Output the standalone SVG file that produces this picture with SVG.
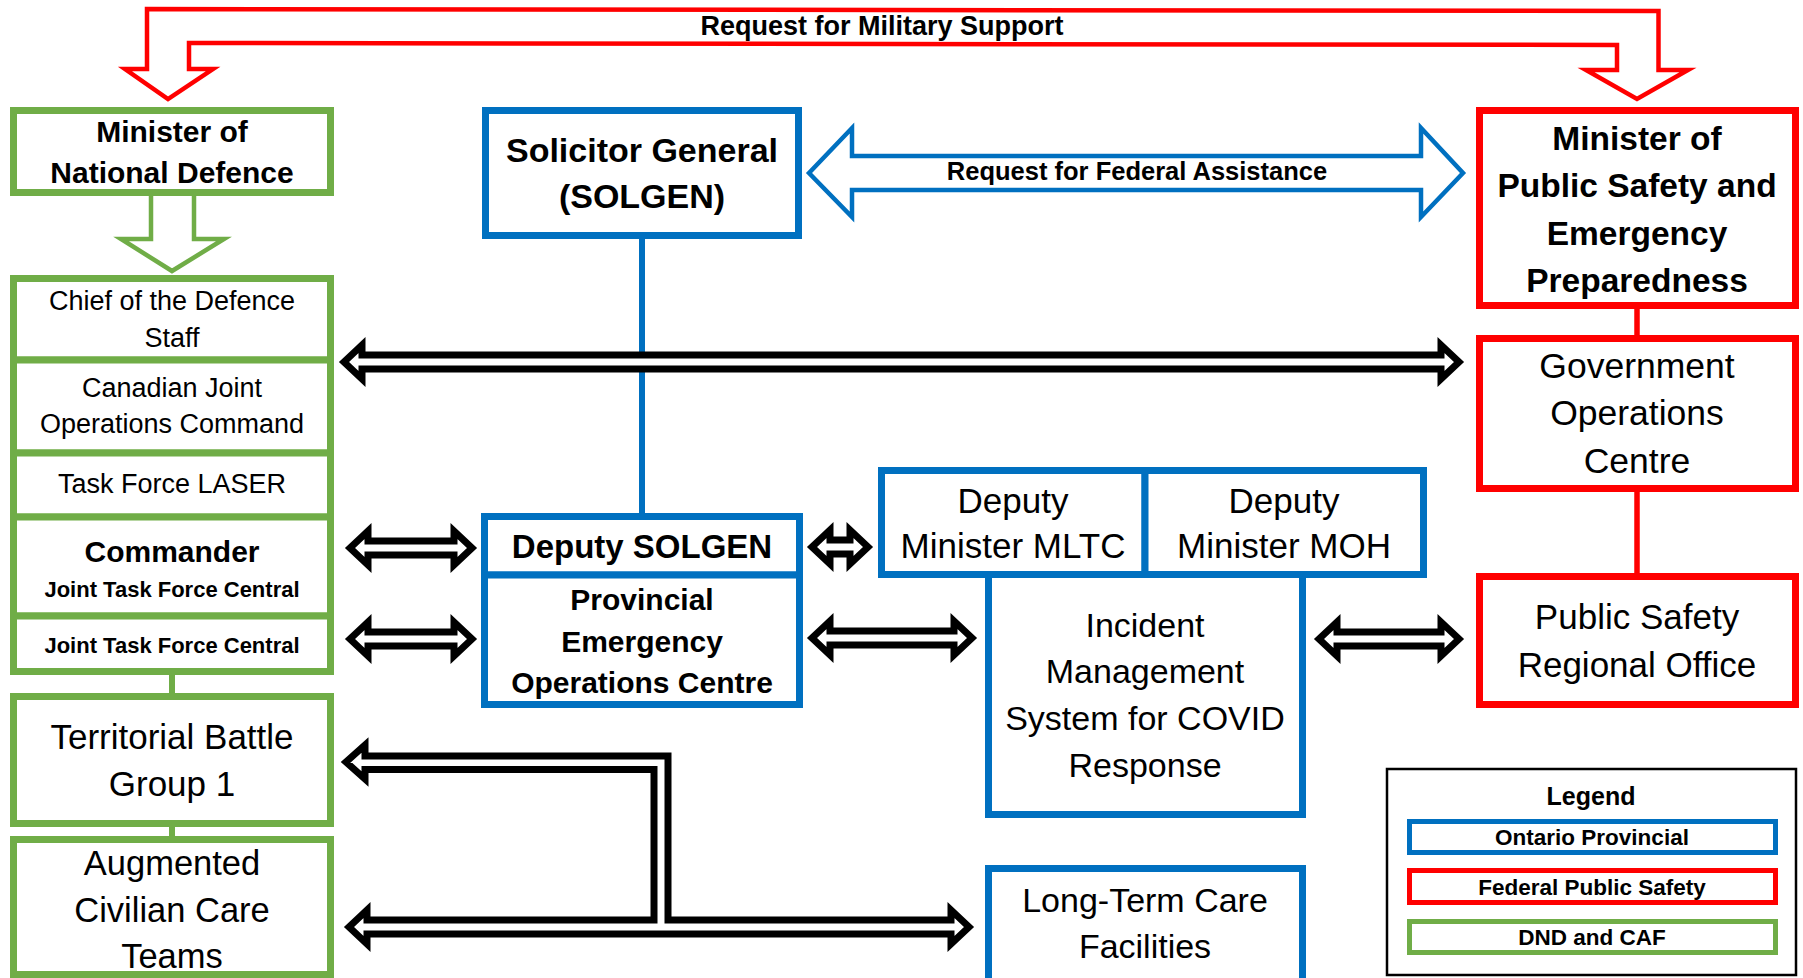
<svg xmlns="http://www.w3.org/2000/svg" width="1803" height="978" viewBox="0 0 1803 978">
<style>
text{font-family:"Liberation Sans",Arial,sans-serif;fill:#000;text-anchor:middle}
.b{font-weight:bold}
.g{fill:#fff;stroke:#70AD47;stroke-width:7}
.u{fill:#fff;stroke:#0070C0;stroke-width:7}
.r{fill:#fff;stroke:#FF0000;stroke-width:7}
.arr{fill:#fff;stroke:#000;stroke-width:7;stroke-linejoin:miter;stroke-miterlimit:10}
</style>
<rect width="1803" height="978" fill="#fff"/>
<g id="connectors">
<path d="M147,69 L125,69 L168,99 L213,69 L189,69 L189,43 L1617,45 L1617,70 L1586,70 L1637,99 L1688,70 L1658.5,70 L1658.5,11 L147,9 Z" fill="#fff" stroke="#FF0000" stroke-width="4.5" stroke-linejoin="miter"/>
<text class="b" x="882" y="35" font-size="27">Request for Military Support</text>
<path d="M809,173 L852,128 L852,156 L1421,156 L1421,128 L1463,173 L1421,217 L1421,190 L852,190 L852,217 Z" fill="#fff" stroke="#0070C0" stroke-width="4.5"/>
<text class="b" x="1137" y="180" font-size="25.5">Request for Federal Assistance</text>
<path d="M151,196 L151,239 L121,239 L172,271 L224,239 L194,239 L194,196" fill="#fff" stroke="#70AD47" stroke-width="4.5"/>
<line x1="642" y1="239" x2="642" y2="514" stroke="#0070C0" stroke-width="6"/>
<line x1="1637" y1="308" x2="1637" y2="337" stroke="#FF0000" stroke-width="5.5"/>
<line x1="1637" y1="491" x2="1637" y2="575" stroke="#FF0000" stroke-width="5.5"/>
<line x1="172" y1="674" x2="172" y2="697" stroke="#70AD47" stroke-width="6"/>
<line x1="172" y1="826" x2="172" y2="838" stroke="#70AD47" stroke-width="6"/>
<path class="arr" d="M344,362 L362,345 L362,355 L1441,355 L1441,345 L1459,362 L1441,379 L1441,369 L362,369 L362,379 Z"/>
<path class="arr" d="M350,548 L368,531 L368,541 L454,541 L454,531 L472,548 L454,565 L454,555 L368,555 L368,565 Z"/>
<path class="arr" d="M350,639 L368,622 L368,632 L454,632 L454,622 L472,639 L454,656 L454,646 L368,646 L368,656 Z"/>
<path class="arr" d="M812,547 L830,530 L830,540 L850,540 L850,530 L868,547 L850,564 L850,554 L830,554 L830,564 Z"/>
<path class="arr" d="M812,638 L830,621 L830,631 L954,631 L954,621 L972,638 L954,655 L954,645 L830,645 L830,655 Z"/>
<path class="arr" d="M1319,639 L1337,622 L1337,632 L1441,632 L1441,622 L1459,639 L1441,656 L1441,646 L1337,646 L1337,656 Z"/>
<path class="arr" d="M349,927 L367,910 L367,920 L654,920 L654,769.5 L365,769.5 L365,779 L346,762 L365,745 L365,756 L668,756 L668,920 L951,920 L951,910 L969,927 L951,944 L951,934 L367,934 L367,944 Z"/>
</g>
<g id="n-mnd"><rect class="g" x="13.5" y="110.5" width="317" height="82"/>
<text class="b" x="172" y="142" font-size="30">Minister of</text><text class="b" x="172" y="183" font-size="30">National Defence</text></g>
<g id="n-cds"><rect class="g" x="13.5" y="278.5" width="317" height="81.5"/>
<text x="172" y="310" font-size="27">Chief of the Defence</text><text x="172" y="347" font-size="27">Staff</text></g>
<g id="n-cjoc"><rect class="g" x="13.5" y="360" width="317" height="93"/>
<text x="172" y="397" font-size="27">Canadian Joint</text><text x="172" y="433" font-size="27">Operations Command</text></g>
<g id="n-tfl"><rect class="g" x="13.5" y="453" width="317" height="64"/>
<text x="172" y="493" font-size="27">Task Force LASER</text></g>
<g id="n-cmd"><rect class="g" x="13.5" y="517" width="317" height="99"/>
<text class="b" x="172" y="562" font-size="30">Commander</text><text class="b" x="172" y="597" font-size="22">Joint Task Force Central</text></g>
<g id="n-jtfc"><rect class="g" x="13.5" y="616" width="317" height="55.5"/>
<text class="b" x="172" y="653" font-size="22">Joint Task Force Central</text></g>
<g id="n-tbg"><rect class="g" x="13.5" y="696.5" width="317" height="127"/>
<text x="172" y="749" font-size="35">Territorial Battle</text><text x="172" y="796" font-size="35">Group 1</text></g>
<g id="n-acct"><rect class="g" x="13.5" y="839.5" width="317" height="135"/>
<text x="172" y="875" font-size="34.5">Augmented</text><text x="172" y="922" font-size="34.5">Civilian Care</text><text x="172" y="968" font-size="34.5">Teams</text></g>
<g id="n-solgen"><rect class="u" x="485.5" y="110.5" width="313" height="125"/>
<text class="b" x="642" y="162" font-size="34">Solicitor General</text><text class="b" x="642" y="208" font-size="34">(SOLGEN)</text></g>
<g id="n-dsolgen"><rect class="u" x="484.5" y="516.5" width="315" height="58.5"/>
<text class="b" x="642" y="558" font-size="33">Deputy SOLGEN</text></g>
<g id="n-peoc"><rect class="u" x="484.5" y="575" width="315" height="129.5"/>
<text class="b" x="642" y="610" font-size="30">Provincial</text><text class="b" x="642" y="652" font-size="30">Emergency</text><text class="b" x="642" y="693" font-size="30">Operations Centre</text></g>
<g id="n-mltc"><rect class="u" x="881.5" y="470.5" width="263.5" height="104"/>
<text x="1013" y="513" font-size="35">Deputy</text><text x="1013" y="558" font-size="35">Minister MLTC</text></g>
<g id="n-moh"><rect class="u" x="1145" y="470.5" width="278.5" height="104"/>
<text x="1284" y="513" font-size="35">Deputy</text><text x="1284" y="558" font-size="35">Minister MOH</text></g>
<g id="n-ims"><rect class="u" x="988.5" y="574.5" width="314" height="240"/>
<text x="1145" y="637" font-size="34">Incident</text><text x="1145" y="683" font-size="34">Management</text><text x="1145" y="730" font-size="34">System for COVID</text><text x="1145" y="777" font-size="34">Response</text></g>
<g id="n-ltc"><rect class="u" x="988.5" y="868.5" width="314" height="130"/>
<text x="1145" y="912" font-size="34">Long-Term Care</text><text x="1145" y="958" font-size="34">Facilities</text></g>
<g id="n-mpsep"><rect class="r" x="1479.5" y="110.5" width="316" height="195"/>
<text class="b" x="1637" y="150" font-size="33.5">Minister of</text><text class="b" x="1637" y="197" font-size="33.5">Public Safety and</text><text class="b" x="1637" y="245" font-size="33.5">Emergency</text><text class="b" x="1637" y="292" font-size="33.5">Preparedness</text></g>
<g id="n-goc"><rect class="r" x="1479.5" y="338.5" width="316" height="150"/>
<text x="1637" y="378" font-size="35.5">Government</text><text x="1637" y="425" font-size="35.5">Operations</text><text x="1637" y="473" font-size="35.5">Centre</text></g>
<g id="n-psro"><rect class="r" x="1479.5" y="576.5" width="316" height="128"/>
<text x="1637" y="629" font-size="35">Public Safety</text><text x="1637" y="677" font-size="35">Regional Office</text></g>
<g id="legend"><rect x="1387" y="769" width="409" height="206" fill="#fff" stroke="#000" stroke-width="2.5"/>
<text class="b" x="1591" y="805" font-size="25">Legend</text>
<rect x="1409.5" y="821.5" width="366" height="31" fill="#fff" stroke="#0070C0" stroke-width="5"/>
<text class="b" x="1592" y="845" font-size="22.5">Ontario Provincial</text>
<rect x="1409.5" y="870.5" width="366" height="32" fill="#fff" stroke="#FF0000" stroke-width="5"/>
<text class="b" x="1592" y="895" font-size="22.5">Federal Public Safety</text>
<rect x="1409.5" y="921.5" width="366" height="31" fill="#fff" stroke="#70AD47" stroke-width="5"/>
<text class="b" x="1592" y="945" font-size="22.5">DND and CAF</text></g>
</svg>
